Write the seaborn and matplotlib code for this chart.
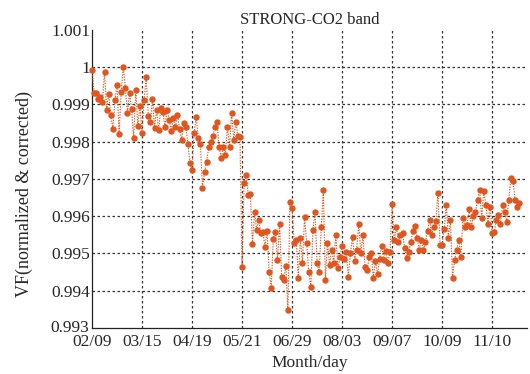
import matplotlib
matplotlib.use("Agg")
import matplotlib.pyplot as plt
import matplotlib.transforms as mtransforms
import seaborn as sns
import numpy as np
import pandas as pd

# ---- data ----
tick_labels = ["02/09", "03/15", "04/19", "05/21", "06/29", "08/03", "09/07", "10/09", "11/10"]
points_per_tick = 24

seg_feb_mar = [0.99993, 0.99931, 0.99930, 0.99915, 0.99920, 0.99907, 0.99987, 0.99886,
               0.99928, 0.99872, 0.99835, 0.99912, 0.99953, 0.99821, 0.99934, 1.00001,
               0.99945, 0.99877, 0.99930, 0.99888, 0.99810, 0.99939, 0.99843, 0.99895]
seg_mar_apr = [0.99824, 0.99912, 0.99974, 0.99870, 0.99852, 0.99915, 0.99838, 0.99886,
               0.99832, 0.99890, 0.99880, 0.99840, 0.99886, 0.99859, 0.99830, 0.99864,
               0.99840, 0.99872, 0.99835, 0.99805, 0.99850, 0.99840, 0.99795, 0.99743]
seg_apr_may = [0.99725, 0.99824, 0.99866, 0.99810, 0.99795, 0.99676, 0.99720, 0.99746,
               0.99785, 0.99800, 0.99815, 0.99840, 0.99853, 0.99786, 0.99757, 0.99786,
               0.99765, 0.99840, 0.99785, 0.99878, 0.99805, 0.99853, 0.99815, 0.99813]
seg_may_jun = [0.99465, 0.99690, 0.99710, 0.99658, 0.99660, 0.99526, 0.99610, 0.99564,
               0.99590, 0.99555, 0.99558, 0.99518, 0.99560, 0.99451, 0.99408, 0.99540,
               0.99558, 0.99483, 0.99578, 0.99438, 0.99430, 0.99467, 0.99349, 0.99639]
seg_jun_aug = [0.99623, 0.99529, 0.99537, 0.99435, 0.99542, 0.99475, 0.99599, 0.99529,
               0.99449, 0.99411, 0.99564, 0.99612, 0.99475, 0.99449, 0.99570, 0.99671,
               0.99430, 0.99529, 0.99470, 0.99510, 0.99475, 0.99550, 0.99460, 0.99490]
seg_aug_sep = [0.99520, 0.99485, 0.99505, 0.99438, 0.99500, 0.99545, 0.99480, 0.99510,
               0.99580, 0.99500, 0.99550, 0.99465, 0.99455, 0.99490, 0.99500, 0.99435,
               0.99480, 0.99445, 0.99485, 0.99520, 0.99483, 0.99507, 0.99475, 0.99505]
seg_sep_oct = [0.99633, 0.99535, 0.99572, 0.99532, 0.99550, 0.99555, 0.99516, 0.99489,
               0.99505, 0.99530, 0.99560, 0.99575, 0.99542, 0.99510, 0.99535, 0.99510,
               0.99530, 0.99560, 0.99590, 0.99550, 0.99570, 0.99586, 0.99663, 0.99524]
seg_oct_nov = [0.99524, 0.99565, 0.99631, 0.99542, 0.99590, 0.99435, 0.99483, 0.99510,
               0.99537, 0.99490, 0.99596, 0.99572, 0.99577, 0.99620, 0.99570, 0.99600,
               0.99612, 0.99644, 0.99671, 0.99596, 0.99668, 0.99631, 0.99580, 0.99626]
seg_nov_end = [0.99556, 0.99558, 0.99590, 0.99604, 0.99580, 0.99631, 0.99612, 0.99585,
               0.99644, 0.99703, 0.99695, 0.99644, 0.99626, 0.99636]

vf_values = (seg_feb_mar + seg_mar_apr + seg_apr_may + seg_may_jun + seg_jun_aug
             + seg_aug_sep + seg_sep_oct + seg_oct_nov + seg_nov_end)
sample_index = list(range(len(vf_values)))

y_ticks = [0.993, 0.994, 0.995, 0.996, 0.997, 0.998, 0.999, 1.0, 1.001]
y_tick_labels = ["0.993", "0.994", "0.995", "0.996", "0.997", "0.998", "0.999", "1", "1.001"]

df = pd.DataFrame({"idx": sample_index, "vf": vf_values})

# ---- style ----
sns.set_style("white")
plt.rcParams["font.family"] = ["Liberation Serif", "DejaVu Serif"]

color = "#E0561E"

fig = plt.figure(figsize=(5.30, 3.74), dpi=100)
ax = fig.add_axes([0.1736, 0.123, 0.821, 0.797])

sns.lineplot(data=df, x="idx", y="vf", ax=ax, color=color, linestyle=(0, (1.2, 1.2)),
             linewidth=0.8, marker="o", markersize=4.6, markeredgewidth=0,
             markerfacecolor=color, estimator=None, sort=False, clip_on=False, zorder=3)

x_tick_pos = [i * points_per_tick for i in range(len(tick_labels))]
ax.set_xlim(0, 208.8)
ax.set_ylim(0.993, 1.001)
ax.set_xticks(x_tick_pos)
ax.set_xticklabels(tick_labels)
ax.set_yticks(y_ticks)
ax.set_yticklabels(y_tick_labels)

# grid (dotted, black)
for yv in y_ticks[1:-1]:
    ax.axhline(yv, color="#333333", linestyle=(0, (2, 2)), linewidth=0.9, zorder=1)
for xv in x_tick_pos[1:]:
    ax.axvline(xv, color="#333333", linestyle=(0, (2, 2)), linewidth=0.9, zorder=1)

for side in ["top", "right"]:
    ax.spines[side].set_visible(False)
for side in ["left", "bottom"]:
    ax.spines[side].set_color("#222222")
    ax.spines[side].set_linewidth(0.9)

ax.tick_params(axis="both", direction="in", length=4, width=0.8, labelsize=12.5,
               color="#222222", pad=1)
ax.tick_params(axis="x", pad=4)

# nudge the bottom y label slightly up-left so it clears the first date label
offset = mtransforms.ScaledTranslation(-1 / 100, 2 / 100, fig.dpi_scale_trans)
for lbl in ax.get_yticklabels():
    if lbl.get_text() == "0.993":
        lbl.set_transform(lbl.get_transform() + offset)

ax.set_title("STRONG-CO2 band", fontsize=12, pad=4)
ax.set_xlabel("Month/day", fontsize=12.5, labelpad=4)
ax.set_ylabel("VF(normalized & corrected)", fontsize=13)
ax.yaxis.set_label_coords(-0.135, 0.45)

fig.savefig("out.png", dpi=100)
